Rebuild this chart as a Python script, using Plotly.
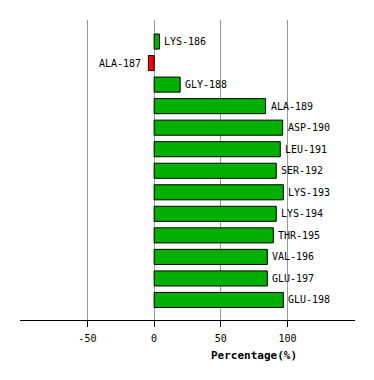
import plotly.graph_objects as go

residues = ["LYS-186", "ALA-187", "GLY-188", "ALA-189", "ASP-190", "LEU-191", "SER-192",
            "LYS-193", "LYS-194", "THR-195", "VAL-196", "GLU-197", "GLU-198"]
percentages = [4.0, -4.3, 19.5, 83.5, 96.3, 94.5, 91.5, 96.8, 91.5, 89.3, 84.8, 84.8, 96.8]
tick_values = [-50, 0, 50, 100]
tick_labels = ["-50", "0", "50", "100"]

GREEN = "#00b000"
RED = "#ff0000"
colors = [GREEN if v >= 0 else RED for v in percentages]
FONT = "DejaVu Sans Mono"

fig = go.Figure()
fig.add_trace(go.Bar(
    x=percentages, y=residues, orientation="h",
    marker=dict(color=colors, line=dict(color="black", width=1)),
    width=0.7, hoverinfo="x+y",
))

for r, v in zip(residues, percentages):
    fig.add_annotation(
        x=v, y=r, xref="x", yref="y", text=r, showarrow=False,
        xanchor="left" if v >= 0 else "right",
        xshift=3 if v >= 0 else -5,
        font=dict(family=FONT, size=10, color="black"),
    )

fig.add_annotation(
    x=0.70, y=-0.117, xref="paper", yref="paper", text="<b>Percentage(%)</b>",
    showarrow=False, xanchor="center", yanchor="middle",
    font=dict(family=FONT, size=11, color="black"),
)

fig.update_layout(
    width=374, height=380,
    margin=dict(l=20, r=19, t=20, b=60),
    paper_bgcolor="white", plot_bgcolor="white",
    showlegend=False,
    bargap=0.3,
)
fig.update_xaxes(
    range=[-100.5, 150.5],
    tickvals=tick_values, ticktext=tick_labels,
    showgrid=True, gridcolor="#999999", gridwidth=1,
    zeroline=False,
    showline=True, linecolor="black", linewidth=1,
    ticks="outside", ticklen=6, tickcolor="black",
    ticklabelstandoff=3,
    tickfont=dict(family=FONT, size=10, color="black"),
)
fig.update_yaxes(
    categoryorder="array", categoryarray=residues,
    range=[12.93, -1.0],
    showticklabels=False, showgrid=False, zeroline=False, showline=False, ticks="",
)

fig.write_html("out.html")
